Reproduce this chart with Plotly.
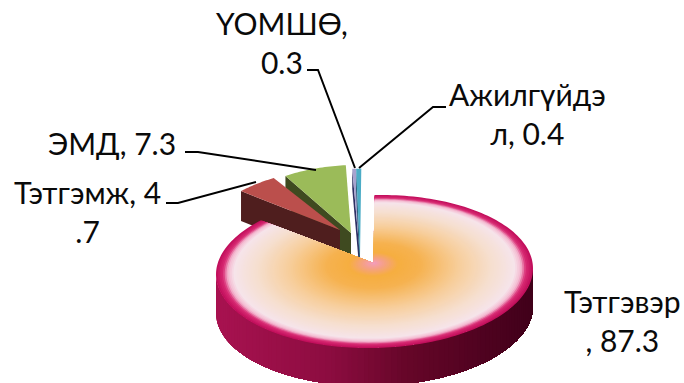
import math
import plotly.graph_objects as go

# ---- data ----
categories = ["Тэтгэвэр", "Тэтгэмж", "ЭМД", "ҮОМШӨ", "Ажилгүйдэл"]
values = [87.3, 4.7, 7.3, 0.3, 0.4]
wrapped_labels = ["Тэтгэвэр<br>, 87.3", "Тэтгэмж, 4<br>.7", "ЭМД, 7.3", "ҮОМШӨ,<br>0.3", "Ажилгүйдэ<br>л, 0.4"]

# ---- style / layout ----
W, H = 684, 383
CX, CY, RX, RY, TILT = 374.5, 271.5, 158.5, 76.5, -3
APEX = (373.5, 263)
DEPTH = 38
FONT = "Lato"
RADIAL = [(0.0, "#f49cc2"), (0.07, "#f5a088"), (0.16, "#f6ae40"), (0.3, "#f6b250"), (0.55, "#f7cf9e"),
          (0.75, "#f6dfd0"), (0.89, "#f6e4ea"), (0.93, "#f4b8d0"), (0.96, "#d92c74"), (1.0, "#c20f5c")]
SIDE = [(0.0, "#a81250"), (0.35, "#8c0c40"), (0.6, "#650628"), (1.0, "#40001a")]
# per slice: apex position, x/y scale, top colour, cut-face colour, face depth
EXPLODED = {
    "ЭМД": ((351, 233), 0.87, 1.0, "#9bbb59", "#3f4a20", 30),
    "Тэтгэмж": ((340, 230), 0.88, 0.91, "#bb4f4c", "#4f1e1e", 30),
    "ҮОМШӨ": ((360, 257), 1.3, 1.3, "#a6a2cf", "#2e2f63", 20),
    "Ажилгүйдэл": ((360, 257), 1.3, 1.3, "#4bacc6", "#1f5a70", 20),
}
DRAW_ORDER = ["ЭМД", "Тэтгэмж", "ҮОМШӨ", "Ажилгүйдэл"]
LABEL_POS = {
    "Тэтгэвэр": (622, 320), "Тэтгэмж": (87, 211), "ЭМД": (112, 143),
    "ҮОМШӨ": (282, 42), "Ажилгүйдэл": (527, 113),
}
LEADERS = {
    "ЭМД": ([185, 198, 316], [152, 152, 170]),
    "Тэтгэмж": ([166, 178, 256], [203, 203, 182]),
    "ҮОМШӨ": ([307, 318, 355], [70, 70, 168]),
    "Ажилгүйдэл": ([446, 433, 359], [107, 107, 168]),
}


def hex_rgb(h):
    return tuple(int(h[i:i + 2], 16) for i in (1, 3, 5))


def ramp(stops, t):
    for (a, ca), (b, cb) in zip(stops, stops[1:]):
        if t <= b:
            f = (t - a) / (b - a) if b > a else 0
            ra, rb = hex_rgb(ca), hex_rgb(cb)
            return "rgb(%d,%d,%d)" % tuple(round(x + (y - x) * f) for x, y in zip(ra, rb))
    return stops[-1][1]


def rim(deg):
    s, c = math.sin(math.radians(deg)), math.cos(math.radians(deg))
    return CX + RX * s, CY - RY * c + TILT * s


def arc(a0, a1, n):
    return [a0 + (a1 - a0) * i / n for i in range(n + 1)]


def poly(xs, ys, color):
    fig.add_trace(go.Scatter(x=xs, y=ys, mode="none", fill="toself", fillcolor=color,
                             hoverinfo="skip", showlegend=False))


fig = go.Figure()

# angular extents from the values, clockwise from 12 o'clock
total = sum(values)
extent, start = {}, 0.0
for name, v in zip(categories, values):
    extent[name] = (start, start + 360 * v / total)
    start += 360 * v / total


def slice_xy(name, dy=0):
    (ax, ay), sx, sy = EXPLODED[name][:3]
    a0, a1 = extent[name]
    pts = [rim(d) for d in arc(a0, a1, 24)]
    xs = [ax + sx * (p[0] - APEX[0]) for p in pts]
    ys = [ay + sy * (p[1] - APEX[1]) + dy for p in pts]
    return ax, ay, xs, ys


# exploded slices: cut face, then top surface
for name in DRAW_ORDER:
    ax, ay, xs, ys = slice_xy(name)
    top, face, depth = EXPLODED[name][3:]
    poly([xs[0], ax, ax, xs[0]], [ys[0], ay, ay + depth, ys[0] + depth], face)
    poly([ax] + xs, [ay] + ys, top)

# main slice: side wall, painted left to right
main = categories[0]
a0, a1 = extent[main]
N_SIDE = 90
wall = arc(270, 90, 240)
for k in range(N_SIDE):
    part = wall[int(k * len(wall) / N_SIDE):]
    pts = [rim(d) for d in part]
    t = (pts[0][0] - (CX - RX)) / (2 * RX)
    poly([p[0] for p in pts] + [p[0] for p in reversed(pts)],
         [p[1] for p in pts] + [p[1] + DEPTH for p in reversed(pts)],
         ramp(SIDE, max(0, min(1, t))))

# main slice: top surface as concentric layers
N_TOP = 90
edge = [rim(d) for d in arc(a0, a1, 200)]
for k in range(N_TOP):
    r = 1 - k / N_TOP
    poly([APEX[0]] + [APEX[0] + r * (p[0] - APEX[0]) for p in edge],
         [APEX[1]] + [APEX[1] + r * (p[1] - APEX[1]) for p in edge],
         ramp(RADIAL, r))

# leader lines
for name, (lx, ly) in LEADERS.items():
    fig.add_trace(go.Scatter(x=lx, y=ly, mode="lines", line=dict(color="#000000", width=2),
                             hoverinfo="skip", showlegend=False))

# labels
for name, label in zip(categories, wrapped_labels):
    x, y = LABEL_POS[name]
    fig.add_annotation(x=x, y=y, text=label, showarrow=False, xanchor="center", yanchor="middle",
                       font=dict(family=FONT, size=30, color="#0a0a0a"), align="center")

fig.update_layout(width=W, height=H, margin=dict(l=0, r=0, t=0, b=0), paper_bgcolor="#ffffff",
                  plot_bgcolor="#ffffff", showlegend=False,
                  xaxis=dict(range=[0, W], visible=False, fixedrange=True),
                  yaxis=dict(range=[H, 0], visible=False, fixedrange=True))
fig.write_html("out.html", post_script="document.body.style.margin='0';",
               config={"displayModeBar": False})
